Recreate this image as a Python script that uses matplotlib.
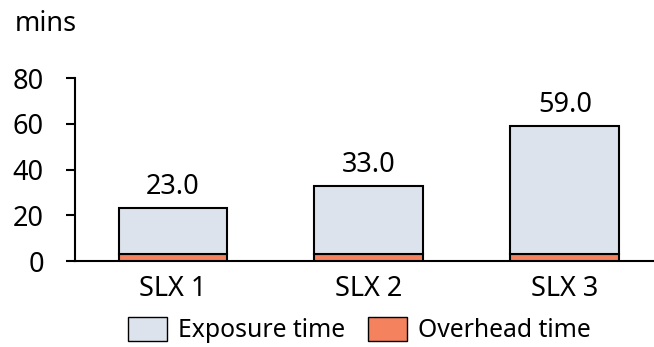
import numpy as np
import matplotlib.pyplot as plt

# data
categories = ['SLX 1', 'SLX 2', 'SLX 3']
overhead = [3, 3, 3]
exposure = [20, 30, 56]
totals = [23.0, 33.0, 59.0]

plt.rcParams['font.family'] = ['Noto Sans', 'DejaVu Sans']
fs = 19.5
fs_small = 17.8

fig = plt.figure(figsize=(6.54, 3.47), dpi=100)
ax = fig.add_axes([0.1147, 0.2478, 0.8853, 0.5274])

x = np.arange(len(categories))
w = 0.556
ax.bar(x, overhead, w, color='#f4825f', edgecolor='black', linewidth=1.5,
       label='Overhead time', zorder=3)
ax.bar(x, exposure, w, bottom=overhead, color='#dde3ec', edgecolor='black',
       linewidth=1.5, label='Exposure time', zorder=3)

for xi, t in zip(x, totals):
    ax.annotate(f'{t:.1f}', (xi, t), xytext=(0, 5), textcoords='offset points',
                ha='center', va='bottom', fontsize=fs)

ax.set_ylim(0, 80)
ax.set_yticks([0, 20, 40, 60, 80])
ax.set_xlim(-0.5, 2.455)
ax.set_xticks(x)
ax.set_xticklabels(categories)

for s in ['top', 'right']:
    ax.spines[s].set_visible(False)
ax.spines['left'].set_linewidth(1.5)
ax.spines['bottom'].set_linewidth(1.5)
ax.tick_params(axis='y', length=6.5, width=1.5, pad=16, labelsize=fs)
ax.tick_params(axis='x', length=0, pad=10, labelsize=fs)

fig.text(15 / 654, 1 - 31 / 347, 'mins', fontsize=fs, ha='left', va='baseline')

handles, labels = ax.get_legend_handles_labels()
leg = fig.legend(handles[::-1], labels[::-1], loc='center', bbox_to_anchor=(359.5 / 654, 1 - 330 / 347),
                 ncol=2, frameon=False, fontsize=fs_small, handlelength=1.58, handleheight=1.13,
                 handletextpad=0.45, columnspacing=0.9, borderpad=0)
for h in leg.legend_handles:
    h.set_linewidth(1.0)

fig.savefig('out.png', dpi=100)
